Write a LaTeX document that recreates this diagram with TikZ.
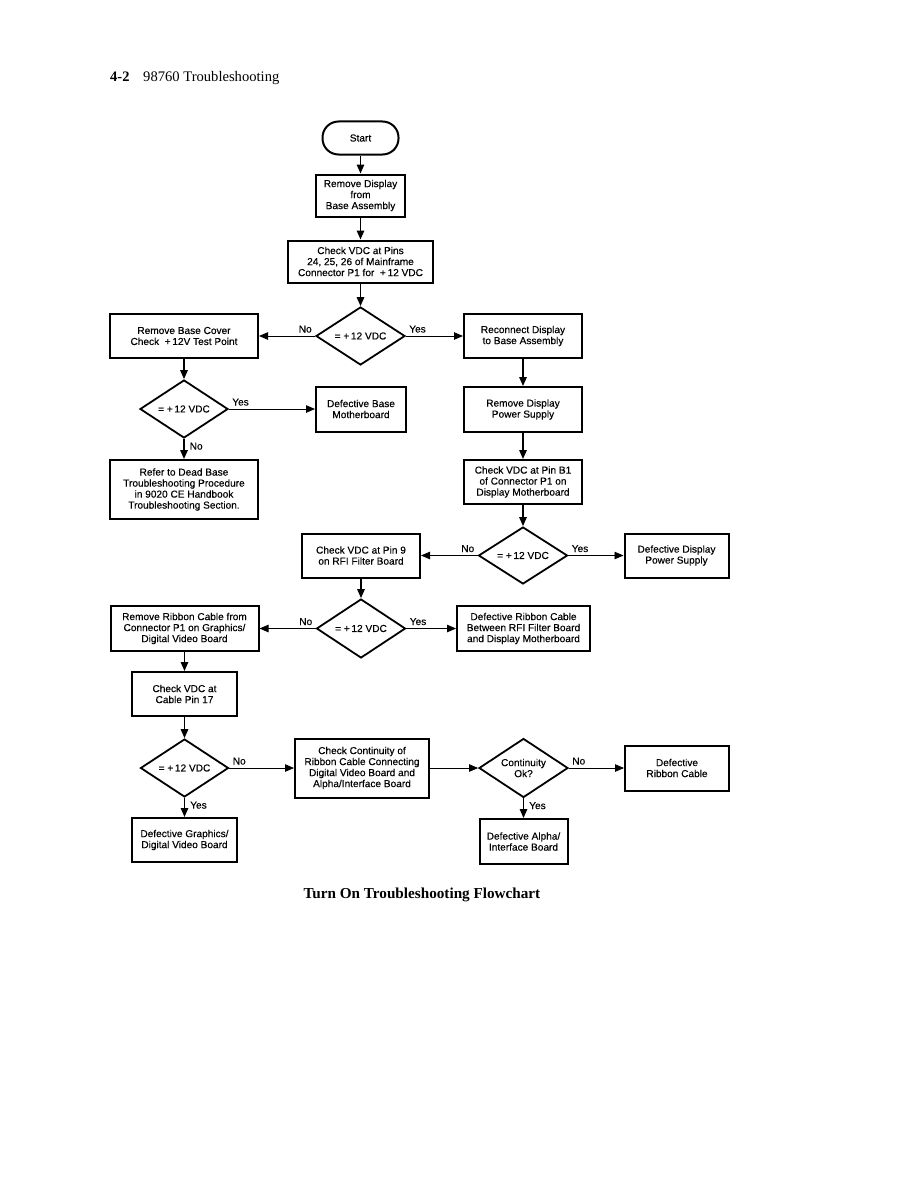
\documentclass[tikz,border=0pt]{standalone}
\usepackage{fontspec}
\setmainfont{Liberation Serif}
\setsansfont{Liberation Sans}
\newfontfamily\boxfont{Liberation Sans}[UprightFeatures={FakeBold=0.35}]
\usetikzlibrary{shapes.geometric,arrows.meta}
\begin{document}
\begin{tikzpicture}[x=1pt,y=-1pt,
  txt/.style={font=\boxfont\fontsize{10.1}{11}\selectfont, align=center},
  box/.style={txt, draw, line width=2pt, inner sep=1pt},
  dec/.style={txt, draw, diamond, line width=1.8pt, inner sep=0pt, shape aspect=1.6},
  vline/.style={line width=1.5pt, -{Triangle[length=9pt,width=7.5pt]}},
  hline/.style={line width=0.8pt, -{Triangle[length=9pt,width=7.5pt]}},
  lbl/.style={font=\boxfont\fontsize{10.1}{11}\selectfont, inner sep=3pt}]
\useasboundingbox (0,0) rectangle (918,1188);
% header
\node[anchor=base west, inner sep=0pt, font=\bfseries\fontsize{14.5}{16}\selectfont] (hnum) at (110,82) {4-2};
\node[anchor=base west, inner sep=0pt, font=\fontsize{14.6}{16}\selectfont] (htitle) at (143,82) {98760 Troubleshooting};
% nodes
\node[box, rounded corners=16pt, minimum width=76pt, minimum height=33pt] (start) at (360.5,138) {Start};
\node[box, minimum width=89pt, minimum height=42pt] (b1) at (360.5,195.5) {Remove Display\\from\\Base Assembly};
\node[box, minimum width=145pt, minimum height=42pt] (b2) at (360.5,261.5) {Check VDC at Pins\\24, 25, 26 of Mainframe\\Connector P1 for \ +\,12 VDC};
\node[dec, minimum width=89pt, minimum height=58pt] (d1) at (360.5,336) {= +\,12 VDC};
\node[box, minimum width=148pt, minimum height=44pt] (rbc) at (184,336) {Remove Base Cover\\Check \ +\,12V Test Point};
\node[box, minimum width=118pt, minimum height=44pt] (rec) at (523,336) {Reconnect Display\\to Base Assembly};
\node[dec, minimum width=88pt, minimum height=58pt] (d2) at (184,409) {= +\,12 VDC};
\node[box, minimum width=90pt, minimum height=45pt] (dbm) at (361,409) {Defective Base\\Motherboard};
\node[box, minimum width=148pt, minimum height=59pt] (refer) at (184,489.5) {Refer to Dead Base\\Troubleshooting Procedure\\in 9020 CE Handbook\\Troubleshooting Section.};
\node[box, minimum width=118pt, minimum height=45pt] (rdps) at (523,409.5) {Remove Display\\Power Supply};
\node[box, minimum width=118pt, minimum height=44pt] (chkb) at (523,482) {Check VDC at Pin B1\\of Connector P1 on\\Display Motherboard};
\node[dec, minimum width=89pt, minimum height=57pt] (d3) at (523,555.5) {= +\,12 VDC};
\node[box, minimum width=104pt, minimum height=44pt] (ddps) at (676.5,555.5) {Defective Display\\Power Supply};
\node[box, minimum width=118pt, minimum height=44pt] (chk9) at (361,555.5) {Check VDC at Pin 9\\on RFI Filter Board};
\node[dec, minimum width=89pt, minimum height=59pt] (d4) at (361,628.5) {= +\,12 VDC};
\node[box, minimum width=148pt, minimum height=45pt] (rrc) at (184.5,628.5) {Remove Ribbon Cable from\\Connector P1 on Graphics/\\Digital Video Board};
\node[box, minimum width=133pt, minimum height=45pt] (drc) at (523.5,628.5) {Defective Ribbon Cable\\Between RFI Filter Board\\and Display Motherboard};
\node[box, minimum width=105pt, minimum height=44pt] (chk17) at (184.5,694) {Check VDC at\\Cable Pin 17};
\node[dec, minimum width=88pt, minimum height=58pt] (d5) at (184.5,768) {= +\,12 VDC};
\node[box, minimum width=105pt, minimum height=44pt] (dgr) at (184.5,840) {Defective Graphics/\\Digital Video Board};
\node[box, minimum width=134pt, minimum height=59pt] (cont) at (362,768) {Check Continuity of\\Ribbon Cable Connecting\\Digital Video Board and\\Alpha/Interface Board};
\node[dec, minimum width=89pt, minimum height=59pt] (d6) at (523.5,768) {Continuity\\Ok?};
\node[box, minimum width=104pt, minimum height=45pt] (drib) at (677,768) {Defective\\Ribbon Cable};
\node[box, minimum width=88pt, minimum height=45pt] (dal) at (523.5,841.5) {Defective Alpha/\\Interface Board};
% caption
\node[inner sep=0pt, font=\bfseries\fontsize{15.2}{18}\selectfont] (cap) at (422,895) {Turn On Troubleshooting Flowchart};
% connectors
\draw[vline] (start) -- (b1);
\draw[vline] (b1) -- (b2);
\draw[vline] (b2) -- (d1);
\draw[hline] (d1.west) -- node[lbl, pos=0, above left]{No} (rbc.east);
\draw[hline] (d1.east) -- node[lbl, pos=0, above right]{Yes} (rec.west);
\draw[vline] (rbc) -- (d2);
\draw[hline] (d2.east) -- node[lbl, pos=0, above right]{Yes} (dbm.west);
\draw[vline] (d2.south) -- node[lbl, pos=0, below right, xshift=2pt]{No} (refer.north);
\draw[vline] (rec) -- (rdps);
\draw[vline] (rdps) -- (chkb);
\draw[vline] (chkb) -- (d3);
\draw[hline] (d3.west) -- node[lbl, pos=0, above left]{No} (chk9.east);
\draw[hline] (d3.east) -- node[lbl, pos=0, above right]{Yes} (ddps.west);
\draw[vline] (chk9) -- (d4);
\draw[hline] (d4.west) -- node[lbl, pos=0, above left]{No} (rrc.east);
\draw[hline] (d4.east) -- node[lbl, pos=0, above right]{Yes} (drc.west);
\draw[vline] (rrc) -- (chk17);
\draw[vline] (chk17) -- (d5);
\draw[hline] (d5.east) -- node[lbl, pos=0, above right]{No} (cont.west);
\draw[vline] (d5.south) -- node[lbl, pos=0, below right, xshift=2pt]{Yes} (dgr.north);
\draw[hline] (cont.east) -- (d6.west);
\draw[hline] (d6.east) -- node[lbl, pos=0, above right]{No} (drib.west);
\draw[vline] (d6.south) -- node[lbl, pos=0, below right, xshift=2pt]{Yes} (dal.north);
\end{tikzpicture}
\end{document}
